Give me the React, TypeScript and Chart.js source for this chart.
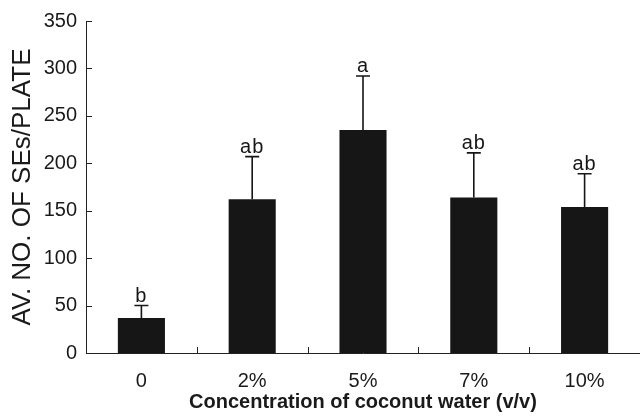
import React, { useEffect, useRef } from "react";
import { Chart, registerables } from "chart.js";

Chart.register(...registerables);

const categories = ["0", "2%", "5%", "7%", "10%"];
const means = [37, 162, 235, 164, 154];
const errors = [13, 45, 57, 47, 35];
const letters = ["b", "ab", "a", "ab", "ab"];
const yTicks = [0, 50, 100, 150, 200, 250, 300, 350];

const FONT = "'Liberation Sans', Arial, Helvetica, sans-serif";

const errorPlugin = {
  id: "errorLetters",
  afterDatasetsDraw(chart: any) {
    const { ctx, scales } = chart;
    const x = scales.x;
    const y = scales.y;
    ctx.save();
    ctx.strokeStyle = "#161616";
    ctx.fillStyle = "#161616";
    ctx.lineWidth = 1.6;
    means.forEach((m, i) => {
      const px = x.getPixelForValue(i);
      const yTop = y.getPixelForValue(m);
      const yErr = y.getPixelForValue(m + errors[i]);
      ctx.beginPath();
      ctx.moveTo(px, yTop);
      ctx.lineTo(px, yErr);
      ctx.moveTo(px - 7, yErr);
      ctx.lineTo(px + 7, yErr);
      ctx.stroke();
      ctx.font = "20px " + FONT;
      ctx.textAlign = "center";
      ctx.textBaseline = "alphabetic";
      (ctx as any).letterSpacing = "1px";
      ctx.fillText(letters[i], px, yErr - 4);
      (ctx as any).letterSpacing = "0px";
    });
    // inward tick marks
    ctx.lineWidth = 1;
    ctx.strokeStyle = "#222";
    const left = chart.chartArea.left;
    const bottom = chart.chartArea.bottom;
    yTicks.forEach((v) => {
      const py = Math.round(y.getPixelForValue(v)) + 0.5;
      ctx.beginPath();
      ctx.moveTo(left, py);
      ctx.lineTo(left + 6, py);
      ctx.stroke();
    });
    for (let i = 0; i < categories.length - 1; i++) {
      const px = Math.round((x.getPixelForValue(i) + x.getPixelForValue(i + 1)) / 2) + 0.5;
      ctx.beginPath();
      ctx.moveTo(px, bottom);
      ctx.lineTo(px, bottom - 6);
      ctx.stroke();
    }
    ctx.restore();
  },
};

export default function App() {
  const ref = useRef<HTMLCanvasElement>(null);
  useEffect(() => {
    if (!ref.current) return;
    const chart = new Chart(ref.current, {
      type: "bar",
      data: {
        labels: categories,
        datasets: [
          {
            data: means,
            backgroundColor: "#161616",
            borderColor: "#3a3a3a",
            borderWidth: 0,
            barPercentage: 0.425,
            categoryPercentage: 1,
          },
        ],
      },
      plugins: [errorPlugin],
      options: {
        animation: false,
        responsive: true,
        maintainAspectRatio: false,
        layout: { padding: { top: 16, right: 0, left: 0, bottom: 0 } },
        plugins: { legend: { display: false }, tooltip: { enabled: false } },
        scales: {
          x: {
            grid: { display: false, drawTicks: false },
            border: { display: true, color: "#222", width: 1 },
            ticks: { color: "#1a1a1a", font: { size: 20, family: FONT }, padding: 16 },
            title: {
              display: true,
              text: "Concentration of coconut water (v/v)",
              color: "#1a1a1a",
              font: { size: 20, family: FONT, weight: "bold" },
              padding: { top: 0, bottom: 3 },
            },
            afterFit(scale: any) {
              scale.height = 64;
            },
          },
          y: {
            min: 0,
            max: 350,
            grid: { display: false, drawTicks: false },
            border: { display: true, color: "#222", width: 1 },
            ticks: {
              stepSize: 50,
              color: "#1a1a1a",
              font: { size: 20, family: FONT },
              padding: 9,
            },
            title: {
              display: true,
              text: "AV. NO. OF SEs/PLATE",
              color: "#1a1a1a",
              font: { size: 26, family: FONT },
              padding: { top: 7, bottom: 0 },
            },
            afterFit(scale: any) {
              scale.width = 86;
            },
          },
        },
      },
    });
    return () => chart.destroy();
  }, []);
  return (
    <div style={{ position: "absolute", left: 0, top: 0, width: 640, height: 417, background: "#fff" }}>
      <canvas ref={ref} />
    </div>
  );
}
